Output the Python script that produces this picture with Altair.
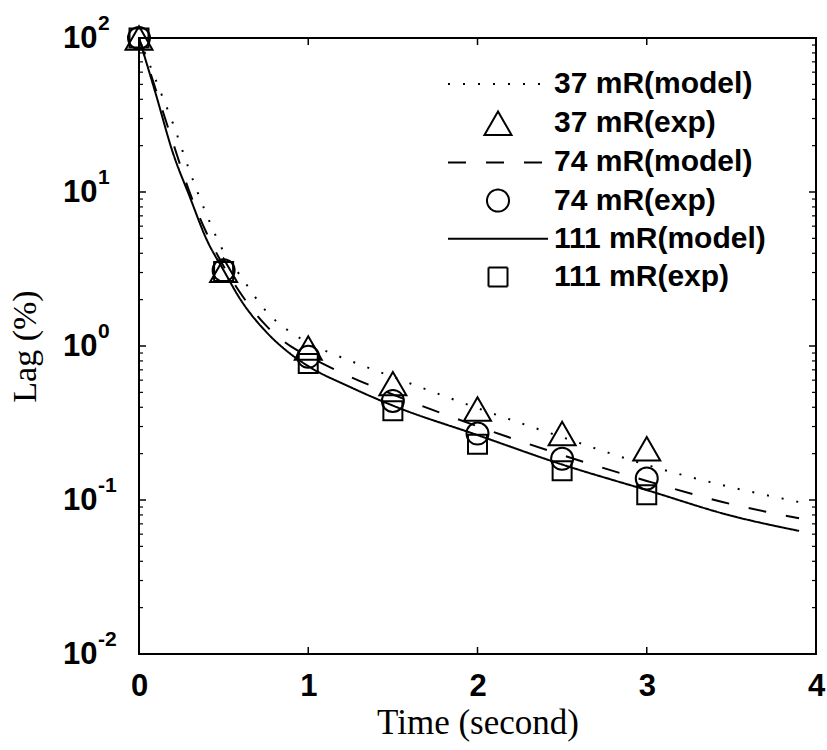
import altair as alt
import pandas as pd

# ---- data ----
T_MODEL = [0, 0.1, 0.2, 0.3, 0.4, 0.5, 0.6, 0.75, 0.9, 1.0, 1.25, 1.5, 2.0, 2.5, 3.0, 3.5, 3.9]
M37 = [100, 53, 28, 13.6, 7.1, 4.1, 2.85, 1.69, 1.22, 1.05, 0.80, 0.63, 0.395, 0.256, 0.169, 0.121, 0.097]
M74 = [100, 46, 21, 9.9, 5.4, 3.3, 2.2, 1.36, 0.99, 0.86, 0.63, 0.484, 0.301, 0.196, 0.133, 0.094, 0.076]
M111 = [100, 43, 18, 9.3, 4.9, 3.1, 2.0, 1.24, 0.88, 0.74, 0.54, 0.41, 0.264, 0.170, 0.116, 0.079, 0.063]

T_EXP = [0, 0.5, 1, 1.5, 2, 2.5, 3]
E37 = [100, 3.1, 0.97, 0.57, 0.39, 0.27, 0.215]
E74 = [100, 3.1, 0.85, 0.44, 0.27, 0.185, 0.138]
E111 = [100, 3.05, 0.77, 0.38, 0.23, 0.155, 0.108]

SERIES = ["37 mR(model)", "37 mR(exp)", "74 mR(model)", "74 mR(exp)",
          "111 mR(model)", "111 mR(exp)"]

X_TICKS = [0, 1, 2, 3, 4]
X_INNER_TICKS = [1, 2, 3]
Y_TICKS = [0.01, 0.1, 1, 10, 100]
Y_EXPONENTS = ["-2", "-1", "0", "1", "2"]
Y_MINOR = [m * 10.0 ** k for k in range(-2, 2) for m in range(2, 10)]

# ---- styles ----
W, H = 677, 616
SANS = "Liberation Sans"
SERIF = "Liberation Serif"

LINE_PATH = "M-4,0L4,0"
TRI_PATH = "M0,-0.936L1.08,0.936L-1.08,0.936Z"
CIRC_PATH = "M0.88,0A0.88,0.88,0,1,1,-0.88,0A0.88,0.88,0,1,1,0.88,0Z"
SQ_PATH = "M-0.76,-0.76L0.76,-0.76L0.76,0.76L-0.76,0.76Z"
SHAPES = [LINE_PATH, TRI_PATH, LINE_PATH, CIRC_PATH, LINE_PATH, SQ_PATH]
DASHES = [[2, 13], [1, 0], [18, 20], [1, 0], [1, 0], [1, 0]]

# ---- tables ----
model_rows = []
for name, vals in [(SERIES[0], M37), (SERIES[2], M74), (SERIES[4], M111)]:
    for t, v in zip(T_MODEL, vals):
        model_rows.append({"t": t, "v": v, "series": name})
model_df = pd.DataFrame(model_rows)

exp_rows = []
for name, vals in [(SERIES[1], E37), (SERIES[3], E74), (SERIES[5], E111)]:
    for t, v in zip(T_EXP, vals):
        exp_rows.append({"t": t, "v": v, "series": name})
exp_df = pd.DataFrame(exp_rows)

ytick_df = pd.DataFrame({"v": Y_TICKS, "e": Y_EXPONENTS})
yminor_df = pd.DataFrame({"v": Y_MINOR})
xtick_df = pd.DataFrame({"t": X_INNER_TICKS})

X_SCALE = alt.Scale(domain=[0, 4], nice=False, zero=False)
Y_SCALE = alt.Scale(type="log", domain=[0.01, 100], nice=False)

LEGEND = alt.Legend(
    title=None, orient="none", legendX=344, legendY=31, columns=1,
    labelFont=SANS, labelFontSize=30, labelFontWeight="bold", labelColor="black",
    labelOffset=41, labelLimit=400, symbolSize=625, symbolStrokeWidth=2,
    symbolStrokeColor="black", symbolFillColor="transparent",
    rowPadding=8.2, padding=0,
)

x_enc = alt.X(
    "t:Q", scale=X_SCALE,
    axis=alt.Axis(
        values=X_TICKS, format="d", title="Time (second)", grid=False, domain=False,
        ticks=False, tickSize=0, labelFlush=False, labelFont=SANS, labelFontSize=31,
        labelFontWeight="bold", labelColor="black", labelPadding=17,
        titleFont=SERIF, titleFontSize=35, titleFontWeight="normal", titleColor="black",
        titleX=W / 2, titleY=68, titleBaseline="middle", titleAlign="center",
    ),
)
y_enc = alt.Y(
    "v:Q", scale=Y_SCALE,
    axis=alt.Axis(
        values=Y_TICKS, labelExpr="'10'", title="Lag (%)", grid=False, domain=False,
        ticks=False, tickSize=0, labelFlush=False, labelFont=SANS, labelFontSize=31,
        labelFontWeight="bold", labelColor="black", labelPadding=42, labelAlign="right",
        labelBaseline="middle",
        titleFont=SERIF, titleFontSize=34, titleFontWeight="normal", titleColor="black",
        titleX=-114, titleY=H / 2, titleAngle=-90, titleBaseline="middle", titleAlign="center",
    ),
)

lines = alt.Chart(model_df).mark_line(
    color="black", strokeWidth=2, interpolate="monotone"
).encode(
    x=x_enc, y=y_enc,
    strokeDash=alt.StrokeDash("series:N", scale=alt.Scale(domain=SERIES, range=DASHES), legend=LEGEND),
)

points = alt.Chart(exp_df).mark_point(
    filled=False, color="black", strokeWidth=2, size=625, opacity=1
).encode(
    x=alt.X("t:Q", scale=X_SCALE),
    y=alt.Y("v:Q", scale=Y_SCALE),
    shape=alt.Shape("series:N", scale=alt.Scale(domain=SERIES, range=SHAPES), legend=LEGEND),
)

y_major_l = alt.Chart(ytick_df).mark_rule(color="black", strokeWidth=1.5).encode(
    y=alt.Y("v:Q", scale=Y_SCALE), x=alt.value(0), x2=alt.value(7))
y_major_r = alt.Chart(ytick_df).mark_rule(color="black", strokeWidth=1.5).encode(
    y=alt.Y("v:Q", scale=Y_SCALE), x=alt.value(W - 7), x2=alt.value(W))
y_minor_l = alt.Chart(yminor_df).mark_rule(color="black", strokeWidth=1.2).encode(
    y=alt.Y("v:Q", scale=Y_SCALE), x=alt.value(0), x2=alt.value(4))
y_minor_r = alt.Chart(yminor_df).mark_rule(color="black", strokeWidth=1.2).encode(
    y=alt.Y("v:Q", scale=Y_SCALE), x=alt.value(W - 4), x2=alt.value(W))
x_tick_b = alt.Chart(xtick_df).mark_rule(color="black", strokeWidth=1.5).encode(
    x=alt.X("t:Q", scale=X_SCALE), y=alt.value(H - 7), y2=alt.value(H))
x_tick_t = alt.Chart(xtick_df).mark_rule(color="black", strokeWidth=1.5).encode(
    x=alt.X("t:Q", scale=X_SCALE), y=alt.value(0), y2=alt.value(7))

exponents = alt.Chart(ytick_df).mark_text(
    font=SANS, fontSize=21, fontWeight="bold", color="black",
    align="left", baseline="middle", dy=-14,
).encode(
    y=alt.Y("v:Q", scale=Y_SCALE), x=alt.value(-41), text="e:N")

chart = alt.layer(
    lines, points, y_major_l, y_major_r, y_minor_l, y_minor_r, x_tick_b, x_tick_t, exponents
).properties(
    width=W, height=H,
    autosize=alt.AutoSizeParams(type="none"),
    padding={"left": 139, "top": 38, "right": 11, "bottom": 96},
    background="white",
).configure_view(
    stroke="black", strokeWidth=2
)

chart.save("out.html", embed_options={"renderer": "svg", "actions": False})
